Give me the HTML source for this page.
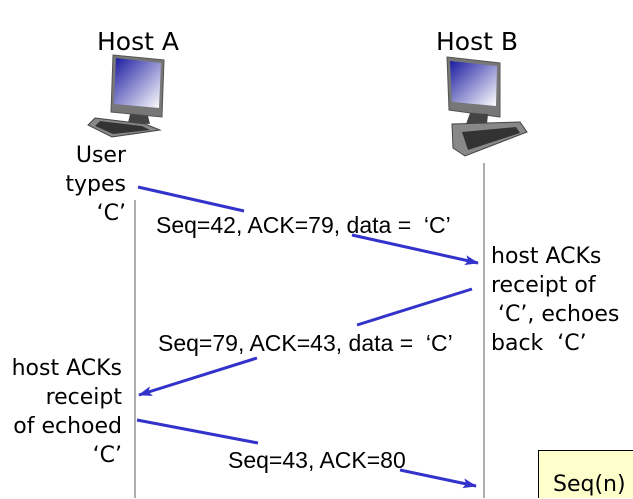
<!DOCTYPE html>
<html><head><meta charset="utf-8"><style>
body{margin:0;width:633px;height:498px;background:#fff;overflow:hidden;position:relative;font-family:"DejaVu Sans","Liberation Sans",sans-serif;}
.t{position:absolute;color:#000;white-space:nowrap;}
.big{font-size:22px;line-height:29px;}
.sm{font-family:"Liberation Sans",sans-serif;font-size:23px;}
</style></head><body>
<svg width="633" height="498" style="position:absolute;left:0;top:0">
<defs>
<linearGradient id="scr" x1="0" y1="0" x2="1" y2="1"><stop offset="0" stop-color="#1a1aa0"/><stop offset="1" stop-color="#fff"/></linearGradient>
<marker id="ah" markerWidth="14" markerHeight="10" refX="13" refY="5" orient="auto" markerUnits="userSpaceOnUse"><path d="M0,0 L14,5 L0,10 L3,5 z" fill="#3333cc"/></marker>
</defs>
<g>
<path d="M113,55 L164,60 L162,117 L111,112 Z" fill="#777" stroke="#555"/>
<path d="M116,58 L161,63 L159,108 L114,104 Z" fill="url(#scr)"/>
<path d="M130,114 L148,116 L150,124 L128,123 Z" fill="#444"/>
<path d="M95,118 L145,124 L160,130 L112,137 L88,125 Z" fill="#888" stroke="#444"/>
<path d="M100,121 L142,126 L150,130 L113,134 L95,126 Z" fill="#333"/>
</g>
<g>
<path d="M447,57 L500,63 L500,117 L449,110 Z" fill="#777" stroke="#555"/>
<path d="M450,61 L497,66 L496,106 L452,102 Z" fill="url(#scr)"/>
<path d="M470,113 L488,114 L487,124 L466,124 Z" fill="#444"/>
<path d="M452,124 L520,122 L527,132 L465,156 L453,148 Z" fill="#888" stroke="#444"/>
<path d="M462,132 L516,127 L520,133 L468,150 Z" fill="#333"/>
</g>
<line x1="135" y1="200" x2="135" y2="498" stroke="#777" stroke-width="1.2"/>
<line x1="484" y1="163" x2="484" y2="498" stroke="#777" stroke-width="1.2"/>
<g stroke="#3333cc" stroke-width="3" fill="none">
<line x1="138" y1="187" x2="244" y2="211"/>
<line x1="352" y1="235" x2="478" y2="263" marker-end="url(#ah)"/>
<line x1="472" y1="289" x2="357" y2="325"/>
<line x1="257" y1="358" x2="139" y2="395" marker-end="url(#ah)"/>
<line x1="137" y1="420" x2="258" y2="443"/>
<line x1="400" y1="470" x2="476" y2="486" marker-end="url(#ah)"/>
</g>
<rect x="538.5" y="450.5" width="100" height="60" fill="#ffffcc" stroke="#000"/>
</svg>
<div class="t" style="left:97px;top:27px;font-size:25px">Host A</div>
<div class="t" style="left:436px;top:27px;font-size:25px">Host B</div>
<div class="t big" style="left:52px;top:141px;text-align:right;width:74px">User<br>types<br>‘C’</div>
<div class="t big" style="left:491px;top:242px">host ACKs<br>receipt of<br>&nbsp;‘C’, echoes<br>back&nbsp; ‘C’</div>
<div class="t big" style="left:0px;top:354px;text-align:right;width:122px">host ACKs<br>receipt<br>of echoed<br>‘C’</div>
<div class="t sm" style="left:156px;top:212px">Seq=42, ACK=79, data =&nbsp; ‘C’</div>
<div class="t sm" style="left:158px;top:330px">Seq=79, ACK=43, data =&nbsp; ‘C’</div>
<div class="t sm" style="left:228px;top:447px">Seq=43, ACK=80</div>
<div class="t big" style="left:553px;top:470px">Seq(n)</div>
</body></html>
